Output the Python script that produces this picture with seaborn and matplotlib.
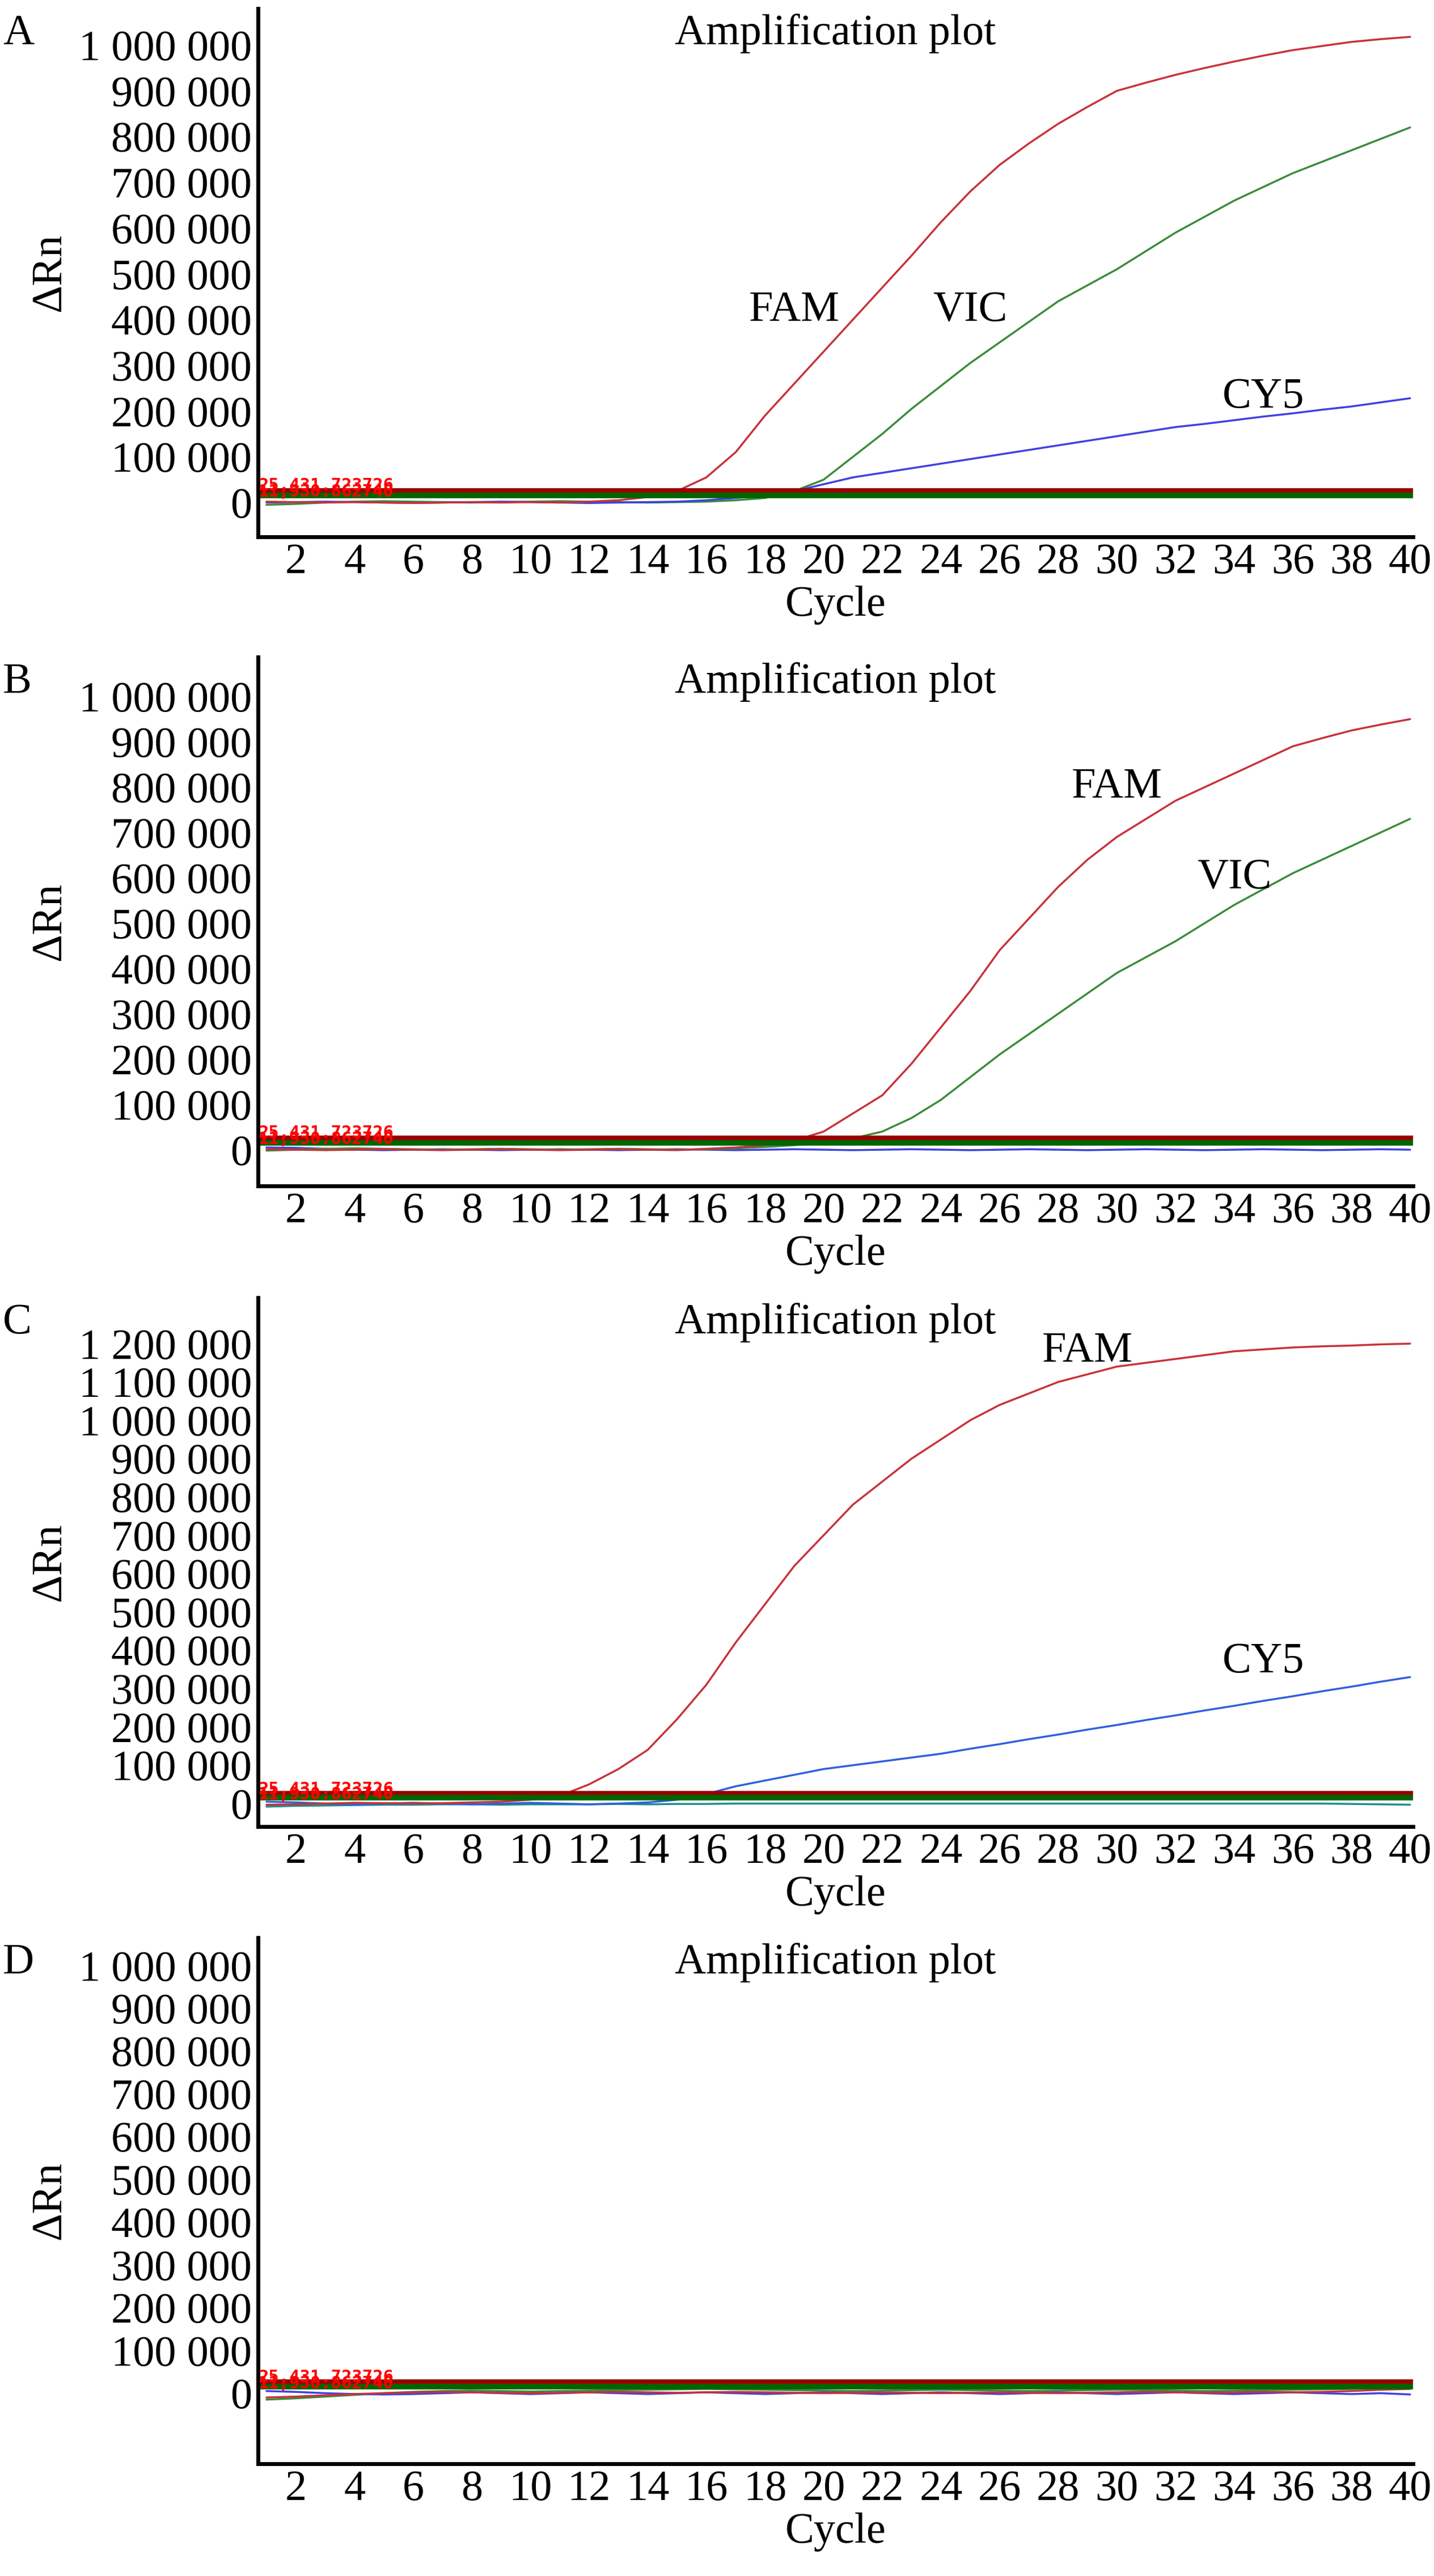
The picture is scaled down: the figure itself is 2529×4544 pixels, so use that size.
import matplotlib
matplotlib.use("Agg")
import matplotlib.pyplot as plt
import seaborn as sns
import numpy as np
import pandas as pd

sns.set_theme(style="white")
plt.rcParams['font.family'] = ['Liberation Serif', 'DejaVu Serif']
plt.rcParams['text.color'] = 'black'
plt.rcParams['axes.labelcolor'] = 'black'

cycles = list(range(1, 41))

# Panel A
A_FAM = [2000, 1000, 0, 1000, 0, -1000, 0, 1000, 0, 1000, 0, 2000, 5000, 12000, 25000, 55000, 110000, 190000, 260000, 330000,
         400000, 470000, 540000, 613000, 680000, 738000, 785000, 828000, 865000, 900000, 918000, 935000, 950000, 964000, 977000, 989000, 998000, 1007000, 1013000, 1018000]
A_VIC = [-5000, -3000, 0, 2000, 3000, 2000, 1000, 0, 1000, 2000, 3000, 2000, 1000, 0, 1000, 2000, 5000, 10000, 25000, 50000,
         100000, 150000, 205000, 255000, 305000, 350000, 395000, 440000, 475000, 510000, 550000, 590000, 625000, 660000, 690000, 720000, 745000, 770000, 795000, 820000]
A_CY5 = [0, 1000, 2000, 1000, 0, -1000, 0, 1000, 2000, 1000, 0, -1000, 0, 1000, 2000, 5000, 10000, 15000, 25000, 40000,
         55000, 65000, 75000, 85000, 95000, 105000, 115000, 125000, 135000, 145000, 155000, 165000, 172000, 180000, 188000, 195000, 203000, 210000, 219000, 228000]

# Panel B
B_FAM = [1000, 0, -1000, 0, 1000, 0, -1000, 0, 1000, 0, -1000, 0, 1000, 0, -1000, 2000, 5000, 10000, 20000, 40000,
         80000, 120000, 190000, 270000, 350000, 440000, 510000, 580000, 640000, 690000, 730000, 770000, 800000, 830000, 860000, 890000, 908000, 925000, 938000, 950000]
B_VIC = [-2000, 0, 2000, 3000, 2000, 1000, 0, 1000, 2000, 1000, 0, 1000, 2000, 1000, 0, 1000, 3000, 6000, 10000, 15000,
         25000, 40000, 70000, 110000, 160000, 210000, 255000, 300000, 345000, 390000, 425000, 460000, 500000, 540000, 575000, 610000, 640000, 670000, 700000, 730000]
B_CY5 = [5000, 4000, 2000, 0, -1000, 0, 1000, 0, -1000, 0, 1000, 0, -1000, 0, 1000, 0, -1000, 0, 1000, 0,
         -1000, 0, 1000, 0, -1000, 0, 1000, 0, -1000, 0, 1000, 0, -1000, 0, 1000, 0, -1000, 0, 1000, 0]

# Panel C
C_FAM = [-3000, -2000, 0, 2000, 1000, 0, 1000, 3000, 5000, 10000, 20000, 50000, 90000, 140000, 220000, 310000, 420000, 520000, 620000, 700000,
         780000, 840000, 900000, 950000, 1000000, 1040000, 1070000, 1100000, 1120000, 1140000, 1150000, 1160000, 1170000, 1180000, 1185000, 1190000, 1193000, 1195000, 1198000, 1200000]
C_CY5 = [5000, 3000, 0, -2000, 0, 2000, 0, -2000, 0, 2000, 0, -2000, 0, 3000, 10000, 25000, 45000, 60000, 75000, 90000,
         100000, 110000, 120000, 130000, 143000, 155000, 168000, 180000, 193000, 205000, 218000, 230000, 243000, 255000, 268000, 280000, 293000, 305000, 318000, 330000]
C_TEAL = [-8000, -6000, -5000, -4000, -3000, -3000, -2000, -2000, -3000, -2000, -2000, -2000, -1000, -2000, -1000, -1000, 0, 0, 0, 0,
          0, 0, 0, 0, 0, 0, 0, 0, 0, 0, 0, 0, 0, 0, 0, 0, 0, -1000, -2000, -3000]

# Panel D
D_FAM = [-10000, -8000, -5000, -2000, 0, 2000, 3000, 2000, 1000, 0, 1000, 2000, 3000, 2000, 1000, 2000, 3000, 2000, 1000, 0,
         1000, 2000, 1000, 0, 1000, 2000, 1000, 0, 1000, 2000, 3000, 2000, 1000, 2000, 3000, 2000, 3000, 5000, 8000, 10000]
D_VIC = [-15000, -12000, -8000, -4000, 0, 3000, 5000, 6000, 5000, 4000, 5000, 6000, 7000, 8000, 9000, 10000, 9000, 8000, 7000, 6000,
         5000, 6000, 7000, 8000, 7000, 6000, 5000, 6000, 7000, 8000, 7000, 6000, 5000, 6000, 7000, 8000, 9000, 10000, 12000, 14000]
D_CY5 = [5000, 3000, 0, -2000, -3000, -2000, 0, 2000, 0, -2000, 0, 2000, 0, -2000, 0, 2000, 0, -2000, 0, 2000,
         0, -2000, 0, 2000, 0, -2000, 0, 2000, 0, -2000, 0, 2000, 0, -2000, 0, 2000, 0, -2000, 0, -3000]

thresholds = [25431.72, 15000.0]
thr_labels = ["25,431.723726", "11,930.862740"]

RED = "#c8323a"; GREEN = "#3a8c3a"; BLUE = "#4040e0"; BLUE2 = "#2f5fe0"; TEAL = "#208c8c"

panels = [
    dict(letter="A", series=[(A_VIC, GREEN), (A_CY5, BLUE), (A_FAM, RED)], ylim=(-75000, 1080000), yticks=np.arange(0, 1000001, 100000),
         ann=[("FAM", 19.0, 420000), ("VIC", 25.0, 420000), ("CY5", 35.0, 230000)]),
    dict(letter="B", series=[(B_CY5, BLUE), (B_VIC, GREEN), (B_FAM, RED)], ylim=(-80000, 1087000), yticks=np.arange(0, 1000001, 100000),
         ann=[("FAM", 30.0, 800000), ("VIC", 34.0, 600000)]),
    dict(letter="C", series=[(C_TEAL, TEAL), (C_CY5, BLUE2), (C_FAM, RED)], ylim=(-60000, 1320000), yticks=np.arange(0, 1200001, 100000),
         ann=[("FAM", 29.0, 1180000), ("CY5", 35.0, 370000)]),
    dict(letter="D", series=[(D_VIC, GREEN), (D_CY5, BLUE), (D_FAM, RED)], ylim=(-165000, 1065000), yticks=np.arange(0, 1000001, 100000),
         ann=[]),
]

W, H = 2529, 4544
fig = plt.figure(figsize=(W / 100, H / 100), dpi=100)
fig.patch.set_facecolor("white")
axes_px = [(15, 947), (1159, 2092), (2289, 3222), (3418, 4346)]
left, right = 455, 2492
FS = 55

def fmt(v):
    return f"{int(v):,}".replace(",", " ")

for p, (top, bot) in zip(panels, axes_px):
    ax = fig.add_axes([left / W, 1 - bot / H, (right - left) / W, (bot - top) / H])
    for vals, col in p["series"]:
        df = pd.DataFrame({"Cycle": cycles, "v": vals})
        sns.lineplot(data=df, x="Cycle", y="v", ax=ax, color=col, linewidth=2.5)
    ax.axhline(thresholds[0], color="#990000", linewidth=7)
    ax.axhline(thresholds[1], color="#006600", linewidth=7)
    ax.text(0.72, thresholds[0] + 12000, thr_labels[0], color="red", fontsize=22, fontweight="bold", family="DejaVu Sans Mono", va="center")
    ax.text(0.72, thresholds[1] + 8000, thr_labels[1], color="red", fontsize=22, fontweight="bold", family="DejaVu Sans Mono", va="center")
    ax.set_xlim(0.71, 40.1)
    ax.set_ylim(*p["ylim"])
    ax.set_xticks(range(2, 41, 2))
    ax.set_yticks(p["yticks"])
    ax.set_yticklabels([fmt(v) for v in p["yticks"]])
    ax.tick_params(axis="both", direction="in", length=12, width=4, labelsize=FS, pad=8, colors="black")
    for s in ["top", "right"]:
        ax.spines[s].set_visible(False)
    for s in ["left", "bottom"]:
        ax.spines[s].set_linewidth(5)
        ax.spines[s].set_color("black")
    ax.set_xlabel("Cycle", fontsize=FS, labelpad=4)
    ax.set_ylabel("ΔRn", fontsize=FS, labelpad=12)
    ax.set_title("")
    ax.text(0.5, 0.99, "Amplification plot", transform=ax.transAxes, ha="center", va="top", fontsize=FS)
    for t, x, y in p["ann"]:
        ax.text(x, y, t, fontsize=FS, ha="center", va="center")
    fig.text(5 / W, 1 - (top + 10) / H, p["letter"], fontsize=FS, va="top", ha="left")

fig.savefig("out.png", dpi=100, facecolor="white")
